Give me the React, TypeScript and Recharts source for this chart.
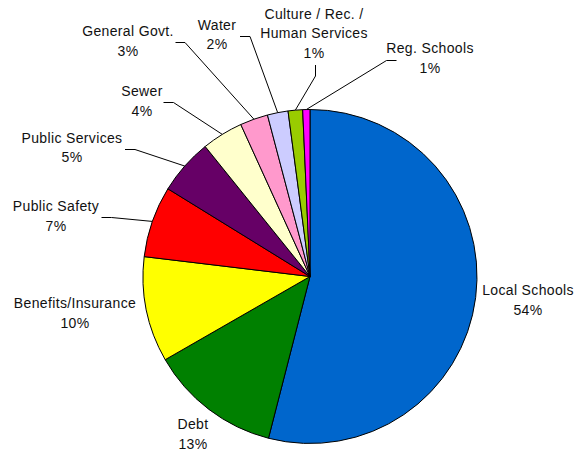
import { PieChart, Pie, Cell } from 'recharts';

const CATEGORIES = [
  'Local Schools',
  'Debt',
  'Benefits/Insurance',
  'Public Safety',
  'Public Services',
  'Sewer',
  'General Govt.',
  'Water',
  'Culture / Rec. /\nHuman Services',
  'Reg. Schools',
];

const SHARES = [54.0, 12.7, 10.2, 6.9, 5.4, 4.0, 2.7, 2.0, 1.4, 0.7];

const COLORS = [
  '#0066CC',
  '#008000',
  '#FFFF00',
  '#FF0000',
  '#660066',
  '#FFFFCC',
  '#FF99CC',
  '#CCCCFF',
  '#99CC00',
  '#FF00FF',
];

// label placement (text centre of first line) and leader line elbow/end, like Excel's manual label moves
const LABEL_LAYOUT: { x: number; y: number; elbow?: [number, number]; end?: [number, number] }[] = [
  { x: 528, y: 290 },
  { x: 193, y: 424 },
  { x: 75, y: 303 },
  { x: 56, y: 206, elbow: [111.5, 217.5], end: [101.5, 217.5] },
  { x: 72, y: 137.5, elbow: [135, 149.5], end: [125, 149.5] },
  { x: 142, y: 91, elbow: [173.5, 102.5], end: [163.5, 102.5] },
  { x: 128, y: 31, elbow: [185, 42.5], end: [175.5, 42.5] },
  { x: 217, y: 24.5, elbow: [250, 36.5], end: [240, 36.5] },
  { x: 314, y: 13.5, elbow: [315.5, 76], end: [315.5, 65] },
  { x: 430, y: 48, elbow: [386.5, 60.5], end: [396.5, 60.5] },
];

const data = CATEGORIES.map((name, i) => ({ name, value: SHARES[i] }));

const FONT = '"Liberation Sans", Arial, sans-serif';
const RAD = Math.PI / 180;

const renderLabel = (props: any) => {
  const { cx, cy, midAngle, outerRadius, index, percent, name } = props;
  const layout = LABEL_LAYOUT[index];
  const lines = String(name).split('\n');
  lines.push(`${Math.round(percent * 100)}%`);
  const sx = cx + outerRadius * Math.cos(-midAngle * RAD);
  const sy = cy + outerRadius * Math.sin(-midAngle * RAD);
  return (
    <g key={`label-${index}`}>
      {layout.elbow && layout.end && (
        <polyline
          points={`${sx},${sy} ${layout.elbow[0]},${layout.elbow[1]} ${layout.end[0]},${layout.end[1]}`}
          fill="none"
          stroke="#000"
          strokeWidth={1}
        />
      )}
      {lines.map((line, i) => (
        <text
          key={i}
          x={layout.x}
          y={layout.y + i * 19.5}
          textAnchor="middle"
          dominantBaseline="central"
          fill="#111"
          fontSize={14}
          letterSpacing={0.35}
          fontFamily={FONT}
        >
          {line}
        </text>
      ))}
    </g>
  );
};

export default function App() {
  return (
    <div style={{ position: 'absolute', left: 0, top: 0, width: 576, height: 450, background: '#fff' }}>
      <PieChart width={576} height={450} margin={{ top: 0, right: 0, bottom: 0, left: 0 }}>
        <Pie
          data={data}
          dataKey="value"
          nameKey="name"
          cx={310}
          cy={276.5}
          outerRadius={167}
          startAngle={90}
          endAngle={-270}
          stroke="#000"
          strokeWidth={1}
          label={renderLabel}
          labelLine={false}
          isAnimationActive={false}
        >
          {data.map((entry, index) => (
            <Cell key={`cell-${index}`} fill={COLORS[index]} />
          ))}
        </Pie>
      </PieChart>
    </div>
  );
}
